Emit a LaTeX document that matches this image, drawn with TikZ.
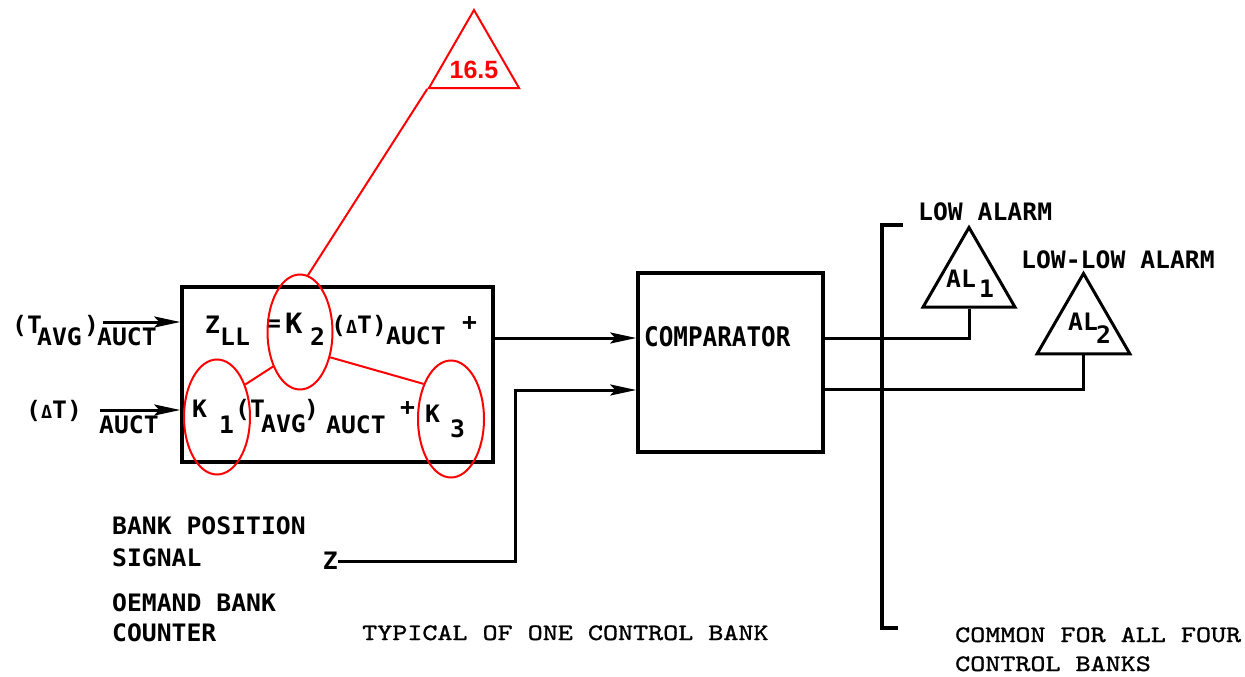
\documentclass[tikz,border=0pt]{standalone}
\usepackage{fontspec}
\usetikzlibrary{shapes.geometric,arrows.meta}
\newfontfamily\plotfont[FakeStretch=1.03]{DejaVu Sans Mono Bold}
\newfontfamily\compfont[FakeStretch=0.9]{DejaVu Sans Mono Bold}
\newfontfamily\typefont[FakeStretch=1.22,FakeBold=1.2]{lmmono10-regular.otf}
\newfontfamily\redfont{Liberation Sans}
\begin{document}
\begin{tikzpicture}[x=1pt,y=-1pt,
  pf/.style={font={\plotfont\fontsize{24}{28}\selectfont}, inner sep=0pt, anchor=base west},
  cf/.style={font={\compfont\fontsize{27}{31}\selectfont}, inner sep=0pt, anchor=base west},
  tf/.style={font={\typefont\fontsize{23.5}{28}\selectfont}, inner sep=0pt, anchor=base west},
  blk/.style={draw=black, line width=3.5pt, rectangle, inner sep=0pt},
  sig/.style={line width=3pt, -{Stealth[length=26pt,width=11pt,inset=5pt]}},
  wire/.style={line width=3pt},
  redl/.style={draw=red, line width=2pt},
  redell/.style={ellipse, draw=red, line width=2pt, inner sep=0pt},
  alarm/.style={regular polygon, regular polygon sides=3, draw=black, line width=3pt, inner sep=0pt, minimum size=106pt}
]
\useasboundingbox (0,0) rectangle (1245,677);

% boxes
\node[blk, minimum width=311pt, minimum height=175pt] (zbox) at (337.5,374.5) {};
\node[blk, minimum width=185pt, minimum height=179pt] (comp) at (730.5,362.5) {};
\node[cf] (comptxt) at (644,346) {COMPARATOR};

% input labels
\node[pf] (i1a) at (12,333) {(T};
\node[pf] (i1b) at (37,345) {AVG};
\node[pf] (i1c) at (84,333) {)};
\node[pf] (i1d) at (97,345) {AUCT};
\node[pf] (i2a) at (26,418) {({\fontsize{18}{20}\selectfont Δ}T)};
\node[pf] (i2b) at (99,433) {AUCT};
\coordinate (in1) at (103,322);
\coordinate (in2) at (100,410);
\draw[sig] (in1) -- (zbox.west |- in1);
\draw[sig] (in2) -- (zbox.west |- in2);

% equation line 1
\node[pf] (e1) at (205,333) {Z};
\node[pf] (e2) at (220,345) {LL};
\node[pf] (e3) at (266,331) {=};
\node[pf, font={\plotfont\fontsize{28}{32}\selectfont}] (e4) at (285,333) {K};
\node[pf] (e5) at (310,345) {2};
\node[pf] (e6) at (331,333) {({\fontsize{18}{20}\selectfont Δ}T)};
\node[pf] (e7) at (386,344) {AUCT};
\node[pf] (e8) at (462,330) {+};
% equation line 2
\node[pf] (f1) at (192,417) {K};
\node[pf] (f2) at (219,433) {1};
\node[pf] (f3) at (235,417) {(T};
\node[pf] (f4) at (261,432) {AVG};
\node[pf] (f5) at (304,417) {)};
\node[pf] (f6) at (326,433) {AUCT};
\node[pf] (f7) at (400,415) {+};
\node[pf] (f8) at (425,422) {K};
\node[pf] (f9) at (450,437) {3};

% bank position signal
\node[pf] (b1) at (112,534) {BANK POSITION};
\node[pf] (b2) at (112,566) {SIGNAL};
\node[pf] (b3) at (112,611) {OEMAND BANK};
\node[pf] (b4) at (112,641) {COUNTER};
\node[pf, anchor=east] (zt) at (338,561) {Z};

% connectors to comparator
\draw[sig] (zbox.east |- 0,338) -- (comp.west |- 0,338);
\draw[sig] (zt.east) -| (515,390) -- (comp.west |- 0,390);

% bracket
\draw[line width=4.5pt] (903,225) -- (882,225) -- (882,628) -- (898,628);

% alarms
\node[alarm] (al1) at (969,280.5) {};
\node[alarm, minimum size=107pt] (al2) at (1083.5,327) {};
\node[pf] (a1) at (946,287) {AL};
\node[pf] (a1s) at (979,297) {1};
\node[pf] (a2) at (1068,330) {AL};
\node[pf] (a2s) at (1096,343) {2};
\node[pf] (lowa) at (918,220) {LOW ALARM};
\node[pf] (lowlowa) at (1021,268) {LOW-LOW ALARM};
\draw[wire] (comp.east |- 0,338) -| (al1.south);
\draw[wire] (comp.east |- 0,389) -| (al2.south);

% captions
\node[tf] (cap1) at (362,640) {TYPICAL OF ONE CONTROL BANK};
\node[tf] (cap2) at (955,642) {COMMON FOR ALL FOUR};
\node[tf] (cap3) at (955,671) {CONTROL BANKS};

% red annotations
\node[redell, minimum width=65pt, minimum height=115pt] (k2) at (300,332) {};
\node[redell, minimum width=66pt, minimum height=115pt] (k1) at (217,417) {};
\node[redell, minimum width=66pt, minimum height=117pt] (k3) at (451,419) {};
\node[regular polygon, regular polygon sides=3, draw=red, line width=2pt, inner sep=0pt, minimum size=104pt] (tri) at (474,62) {};
\node[font={\redfont\fontsize{25}{29}\selectfont\bfseries}, text=red, inner sep=0pt, anchor=base] (val) at (474,78) {16.5};
\draw[redl] (tri.corner 2) -- (k2.82);
\draw[redl] (k2.232) -- (k1.49);
\draw[redl] (k2.320) -- (k3.128);
\end{tikzpicture}
\end{document}
